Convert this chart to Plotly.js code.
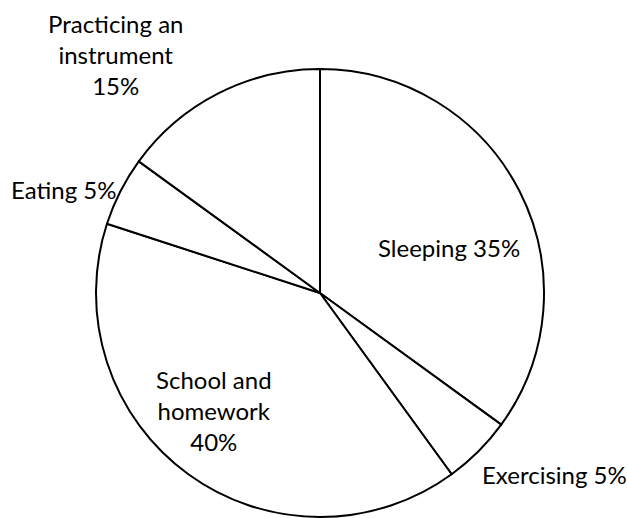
<!DOCTYPE html>
<html>
<head>
<meta charset="utf-8">
<script src="https://cdn.plot.ly/plotly-3.0.1.min.js"></script>
<style>html,body{margin:0;padding:0;background:#fff;}#chart{width:628px;height:518px;}</style>
</head>
<body>
<div id="chart"></div>
<script>
var categories = ["Sleeping", "Exercising", "School and homework", "Eating", "Practicing an instrument"];
var values = [35, 5, 40, 5, 15];
var labelTexts = ["Sleeping 35%", "Exercising 5%", "School and<br>homework<br>40%", "Eating 5%", "Practicing an<br>instrument<br>15%"];

var W = 628, H = 518;
var labelPos = [[449, 248], [554, 474], [214, 410], [63, 190], [116, 54]];

var annotations = labelTexts.map(function (t, i) {
  return {
    text: t, showarrow: false, xref: "paper", yref: "paper",
    x: labelPos[i][0] / W, y: 1 - labelPos[i][1] / H,
    xanchor: "center", yanchor: "middle", align: "center",
    font: {family: "Lato, 'Open Sans', sans-serif", size: 24, color: "#000"}
  };
});

var trace = {
  type: "pie",
  labels: categories,
  values: values,
  sort: false,
  direction: "clockwise",
  rotation: 0,
  textinfo: "none",
  hoverinfo: "skip",
  marker: {colors: categories.map(function () { return "#ffffff"; }), line: {color: "#000", width: 2}},
  domain: {x: [96 / W, 544 / W], y: [1 - 517 / H, 1 - 69 / H]},
  showlegend: false
};

Plotly.newPlot("chart", [trace], {
  width: W, height: H,
  margin: {l: 0, r: 0, t: 0, b: 0},
  paper_bgcolor: "#fff",
  showlegend: false,
  annotations: annotations
}, {staticPlot: true});
</script>
</body>
</html>
